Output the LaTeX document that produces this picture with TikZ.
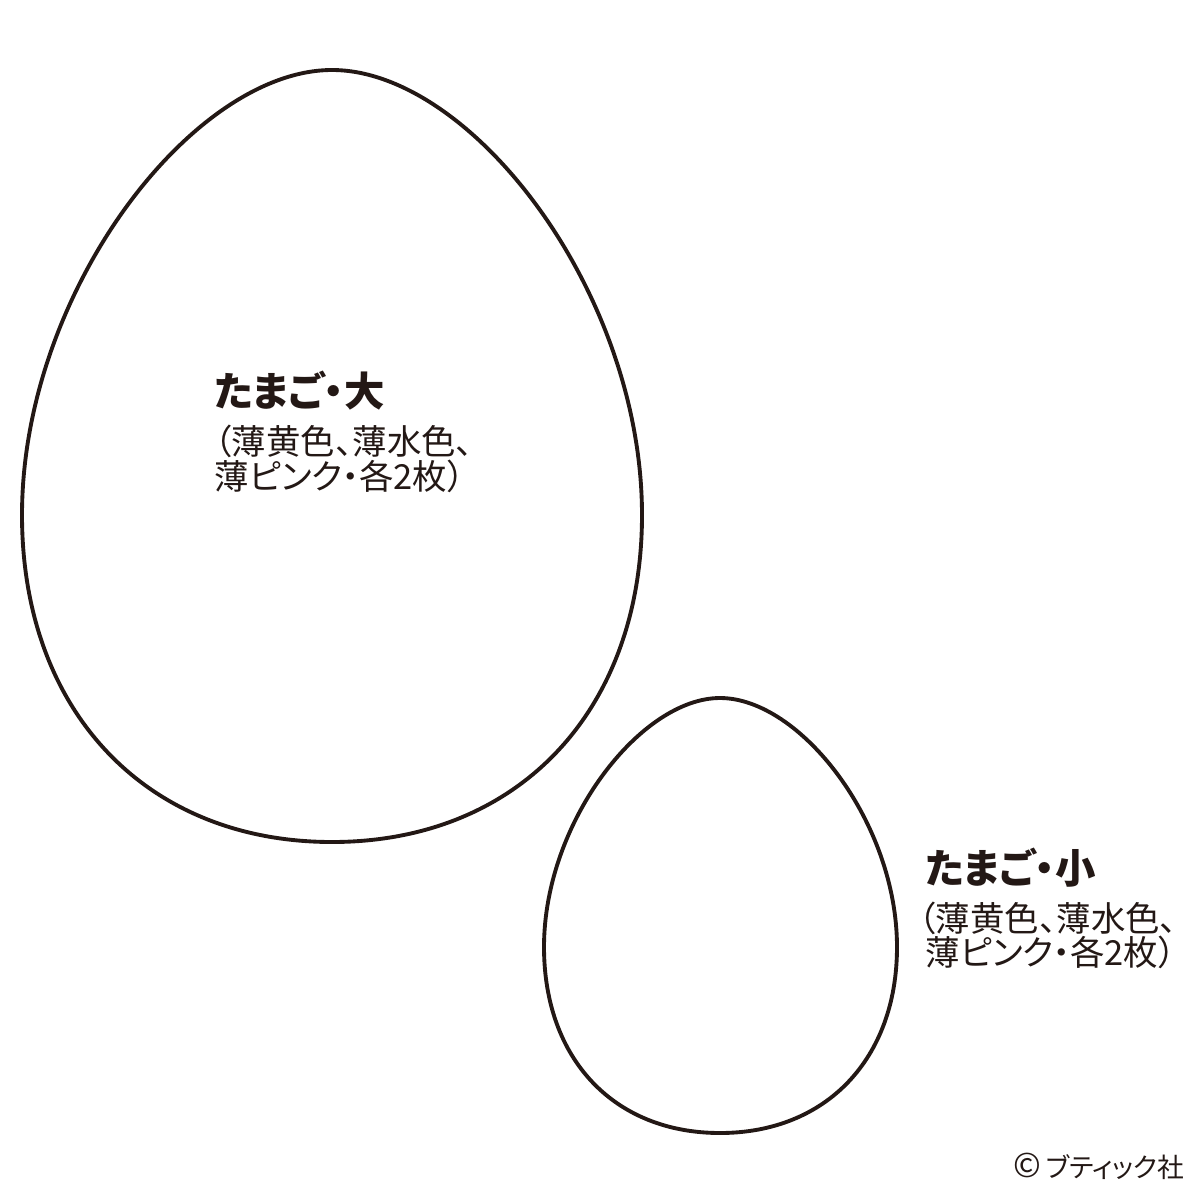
\documentclass[tikz,border=0pt]{standalone}
\usepackage{fontspec}
\newfontfamily\jpfont[RawFeature=+palt]{Noto Sans CJK JP}
\usetikzlibrary{positioning}
\definecolor{inkbrown}{HTML}{231815}
\tikzset{
    x=0.01cm, y=-0.01cm, % one unit is one pixel of the 1200x1200 sheet, y runs down
    eggline/.style={ % outline of each egg
        draw=inkbrown,
        line width=1.1pt
    },
    eggname/.style={ % bold name of the egg
        anchor=west,
        inner sep=0pt,
        text=inkbrown,
        font=\jpfont\bfseries\fontsize{11.5pt}{12pt}\selectfont
    },
    eggnote/.style={ % colours and number of pieces
        anchor=west,
        inner sep=0pt,
        text=inkbrown,
        font=\jpfont\fontsize{9.8pt}{10pt}\selectfont
    }
}
\begin{document}
\begin{tikzpicture}
        \useasboundingbox (0,0) rectangle (1200,1200);
        % grosses ei
        \draw[eggline] (332,70)
                .. controls (471,70)  and (642,292) .. (642,515)
                .. controls (642,711) and (518,842) .. (332,842)
                .. controls (146,842) and (22,711)  .. (22,515)
                .. controls (22,292)  and (193,70)  .. (332,70) -- cycle;
        % kleines ei
        \draw[eggline] (720,698)
                .. controls (800,698)  and (897,822)  .. (897,947)
                .. controls (897,1059) and (826,1133) .. (720,1133)
                .. controls (614,1133) and (544,1059) .. (544,947)
                .. controls (544,822)  and (641,698)  .. (720,698) -- cycle;
        % beschriftung gross
        \node[eggname]   (bigname)   at (214,391)   {たまご・大};
        \node[eggnote]   (bignote1)  at (214,441)   {（薄黄色、薄水色、};
        \node[eggnote]   (bignote2)  at (214,476)   {薄ピンク・各2枚）};
        % beschriftung klein
        \node[eggname]   (smallname) at (925,868)   {たまご・小};
        \node[eggnote]   (smallnote1) at (918,918)  {（薄黄色、薄水色、};
        \node[eggnote]   (smallnote2) at (925,952)  {薄ピンク・各2枚）};
        % verlag
        \node[eggnote, font=\jpfont\fontsize{7.6pt}{8pt}\selectfont]
                         (publisher) at (1013,1166)
                         {{\fontsize{9.5pt}{9.5pt}\selectfont ©}\,ブティック社};
\end{tikzpicture}
\end{document}
